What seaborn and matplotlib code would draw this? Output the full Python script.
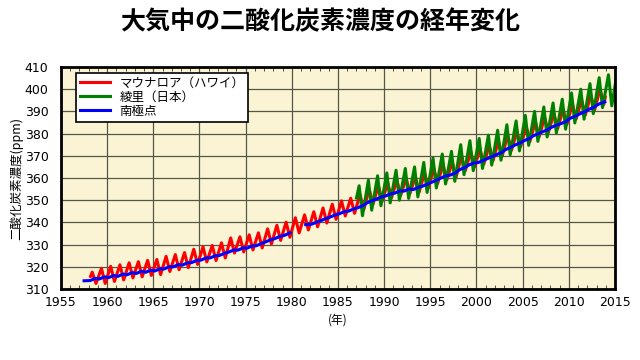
import matplotlib
matplotlib.use("Agg")
import matplotlib.pyplot as plt
import seaborn as sns
import pandas as pd
from matplotlib.ticker import MultipleLocator
from matplotlib.font_manager import FontProperties

# --- data (ppm) ---
# Mauna Loa (Hawaii): yearly May maximum and Oct minimum
ml_years = list(range(1958, 2014))
ml_peak = [317.6, 319.3, 320.2, 320.9, 321.8, 322.3, 322.9, 323.3, 324.7, 325.5,
           326.4, 327.9, 329.0, 329.6, 330.8, 333.0, 333.5, 334.4, 335.3, 337.1,
           338.7, 340.1, 342.1, 343.4, 344.8, 346.5, 348.2, 349.7, 350.9, 352.6,
           355.0, 356.5, 357.8, 359.0, 359.8, 360.5, 362.3, 364.3, 366.0, 367.2,
           370.1, 371.8, 373.0, 374.6, 376.8, 379.3, 381.0, 383.3, 385.4, 387.3,
           389.1, 390.9, 393.4, 395.2, 397.4, 400.0]
ml_trough = [312.5, 312.5, 313.4, 314.1, 315.0, 315.5, 316.1, 316.5, 317.9, 318.7,
             319.6, 321.1, 322.2, 322.8, 324.0, 326.2, 326.7, 327.6, 328.5, 330.3,
             331.9, 333.3, 335.3, 336.6, 338.0, 339.7, 341.4, 342.9, 344.1, 345.8,
             348.2, 349.7, 351.0, 352.2, 353.0, 353.7, 355.5, 357.5, 359.2, 360.4,
             363.3, 365.0, 366.2, 367.8, 370.0, 372.5, 374.2, 376.5, 378.6, 380.5,
             382.3, 384.1, 386.6, 388.4, 390.6, 393.2]
ml_first = (1958.2, 315.7)
ml_last = (2013.95, 396.5)

# Ryori (Japan): yearly April maximum and August minimum
ry_years = list(range(1987, 2015))
ry_peak = [356.5, 359.0, 361.0, 362.3, 363.5, 364.3, 365.0, 367.0, 369.0, 370.8,
           372.0, 375.0, 376.8, 377.8, 379.3, 381.5, 384.0, 385.7, 388.2, 390.0,
           392.0, 393.8, 395.5, 398.3, 400.0, 402.5, 405.2, 406.5]
ry_trough = [343.0, 345.5, 347.5, 348.8, 350.0, 350.8, 351.5, 353.5, 355.5, 357.3,
             358.5, 361.5, 363.3, 364.3, 365.8, 368.0, 370.5, 372.2, 374.7, 376.5,
             378.5, 380.3, 382.0, 384.8, 386.5, 389.0, 391.7, 392.5]
ry_first = (1987.0, 351.0)
ry_last = (2015.1, 404.0)

# South Pole: two pieces with a gap around 1980-81, yearly low / high
sp1_years = list(range(1958, 1980))
sp1_low = [313.8, 314.5, 315.1, 315.7, 316.4, 317.0, 317.5, 318.1, 319.0, 320.0, 320.8,
           321.9, 323.0, 324.0, 325.1, 326.6, 327.5, 328.4, 329.5, 331.2, 332.7, 334.1]
sp1_high = [314.8, 315.5, 316.1, 316.7, 317.4, 318.0, 318.5, 319.1, 320.0, 321.0, 321.8,
            322.9, 324.0, 325.0, 326.1, 327.6, 328.5, 329.4, 330.5, 332.2, 333.7, 335.1]
sp1_first = (1957.5, 313.7)
sp1_last = (1979.8, 335.4)

sp2_years = list(range(1982, 2014))
sp2_low = [339.2, 340.8, 342.4, 343.9, 345.1, 346.6, 348.8, 350.5, 351.9, 353.2,
           354.1, 354.8, 356.3, 358.1, 360.0, 361.3, 363.7, 365.8, 366.9, 368.7,
           370.5, 372.8, 374.8, 376.8, 379.0, 380.8, 382.9, 384.5, 386.9, 388.8,
           390.9, 393.1]
sp2_high = [340.2, 341.8, 343.4, 344.9, 346.1, 347.6, 349.8, 351.5, 352.9, 354.2,
            355.1, 355.8, 357.3, 359.1, 361.0, 362.3, 364.7, 366.8, 367.9, 369.7,
            371.5, 373.8, 375.8, 377.8, 380.0, 381.8, 383.9, 385.5, 387.9, 389.8,
            391.9, 394.1]
sp2_first = (1981.5, 339.0)
sp2_last = (2013.9, 394.3)

names = ['マウナロア（ハワイ）', '綾里（日本）', '南極点']
colors = ['#ff0000', '#008000', '#0000ff']


def zigzag(name, seg, years, a, a_off, b, b_off, first, last):
    rows = [(first[0], first[1])]
    for y, va, vb in zip(years, a, b):
        rows.append((y + a_off, va))
        rows.append((y + b_off, vb))
    rows.append(last)
    d = pd.DataFrame(rows, columns=['year', 'ppm'])
    d['series'] = name
    d['seg'] = seg
    return d


df = pd.concat([
    zigzag(names[0], 0, ml_years, ml_peak, 0.38, ml_trough, 0.79, ml_first, ml_last),
    zigzag(names[1], 1, ry_years, ry_peak, 0.29, ry_trough, 0.65, ry_first, ry_last),
    zigzag(names[2], 2, sp1_years, sp1_low, 0.15, sp1_high, 0.72, sp1_first, sp1_last),
    zigzag(names[2], 3, sp2_years, sp2_low, 0.15, sp2_high, 0.72, sp2_first, sp2_last),
], ignore_index=True)

jp = 'Noto Sans CJK JP'

fig = plt.figure(figsize=(6.4, 3.6), dpi=100)
ax = fig.add_axes([61 / 640, 1 - 289 / 360, 554 / 640, 222 / 360])
ax.set_facecolor('#fbf4d4')

sns.lineplot(data=df, x='year', y='ppm', hue='series', hue_order=names,
             palette=colors, units='seg', estimator=None, sort=False,
             linewidth=2.2, ax=ax)

ax.set_xlim(1955, 2015)
ax.set_ylim(310, 410)
ax.xaxis.set_major_locator(MultipleLocator(5))
ax.xaxis.set_minor_locator(MultipleLocator(1))
ax.yaxis.set_major_locator(MultipleLocator(10))
ax.grid(True, which='major', color='#55554a', linewidth=0.9)
ax.set_axisbelow(True)
ax.tick_params(which='major', length=0, labelsize=9)
ax.tick_params(axis='x', which='major', pad=5)
ax.tick_params(axis='y', which='major', pad=9)
ax.tick_params(which='minor', axis='x', direction='in', length=3,
               top=True, bottom=True, color='#333333')
for s in ax.spines.values():
    s.set_linewidth(2)
    s.set_color('black')

ax.set_xlabel('(年)', fontfamily=jp, fontsize=8.5, labelpad=3)
ax.set_ylabel('二酸化炭素濃度(ppm)', fontfamily=jp, fontsize=9, labelpad=1)

leg = ax.legend(loc='upper left', bbox_to_anchor=(0.027, 0.975), borderaxespad=0,
                prop=FontProperties(family=jp, size=9), frameon=True,
                fancybox=False, framealpha=1, edgecolor='black',
                handlelength=2.4, labelspacing=0.1, borderpad=0.3)
leg.get_frame().set_linewidth(1.2)

fig.text(0.5, 1 - 22 / 360, '大気中の二酸化炭素濃度の経年変化', fontfamily=jp,
         fontsize=18, fontweight='bold', ha='center', va='center')

fig.savefig('out.png', dpi=100, facecolor='white')
